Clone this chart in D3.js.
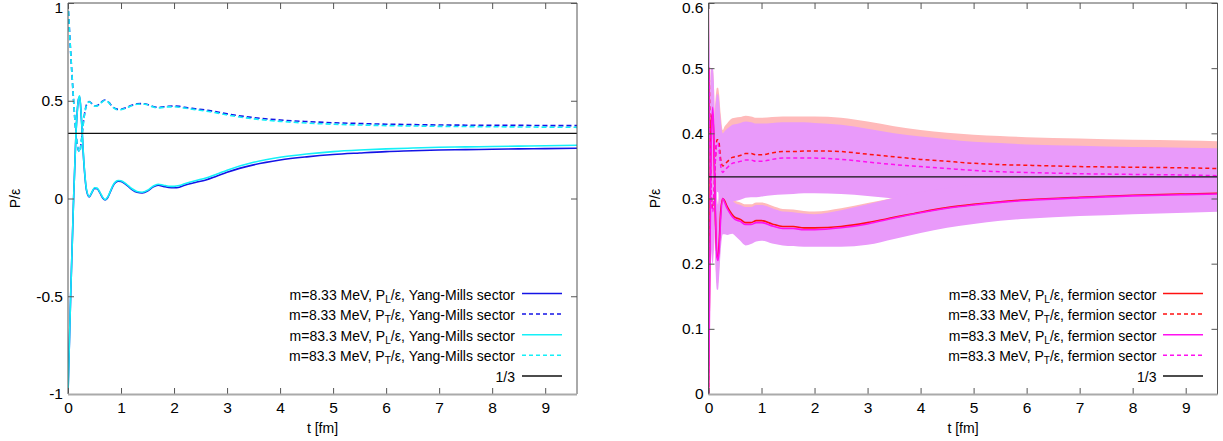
<!DOCTYPE html>
<html><head><meta charset="utf-8">
<script src="https://cdn.jsdelivr.net/npm/d3@7"></script>
<style>
body{margin:0;background:#fff}
svg{display:block}
</style>
</head><body><svg id="c" width="1223" height="441"></svg>
<script>
// ---------- LEFT PANEL (Yang-Mills sector) ----------
const tL = [0, 0.05, 0.1, 0.15, 0.2, 0.22, 0.25, 0.3, 0.35, 0.4, 0.45, 0.5, 0.55, 0.6, 0.65, 0.7, 0.75, 0.8, 0.85, 0.9, 0.95, 1.0, 1.1, 1.2, 1.3, 1.4, 1.5, 1.6, 1.7, 1.8, 1.9, 2.0, 2.1, 2.2, 2.4, 2.6, 2.8, 3.0, 3.5, 4.0, 4.5, 5, 5.5, 6, 6.5, 7, 7.5, 8, 8.5, 9, 9.6];
const ymPL8 = [-1.0, -0.5, -0.05, 0.33, 0.51, 0.52, 0.42, 0.18, 0.04, 0.008, 0.03, 0.052, 0.05, 0.03, 0.005, -0.008, 0.005, 0.035, 0.065, 0.082, 0.088, 0.087, 0.07, 0.047, 0.032, 0.029, 0.038, 0.058, 0.068, 0.062, 0.056, 0.055, 0.058, 0.068, 0.082, 0.095, 0.114, 0.134, 0.172, 0.197, 0.213, 0.225, 0.233, 0.24, 0.244, 0.248, 0.25, 0.252, 0.254, 0.255, 0.257];
const ymPT8 = [1.0, 0.75, 0.525, 0.335, 0.245, 0.24, 0.29, 0.41, 0.48, 0.496, 0.485, 0.474, 0.475, 0.485, 0.4975, 0.504, 0.4975, 0.4825, 0.4675, 0.459, 0.456, 0.4565, 0.465, 0.4765, 0.484, 0.4855, 0.481, 0.471, 0.466, 0.469, 0.472, 0.4725, 0.471, 0.466, 0.459, 0.4525, 0.443, 0.433, 0.414, 0.4015, 0.3935, 0.3875, 0.3835, 0.38, 0.378, 0.376, 0.375, 0.374, 0.374, 0.373, 0.373];
const ymPL83 = [-1.0, -0.5, -0.05, 0.33, 0.51, 0.525, 0.425, 0.185, 0.045, 0.01, 0.032, 0.055, 0.053, 0.033, 0.008, -0.006, 0.008, 0.038, 0.068, 0.086, 0.092, 0.091, 0.074, 0.051, 0.036, 0.032, 0.042, 0.062, 0.073, 0.068, 0.063, 0.062, 0.066, 0.075, 0.091, 0.105, 0.124, 0.145, 0.185, 0.211, 0.228, 0.24, 0.248, 0.254, 0.258, 0.262, 0.264, 0.266, 0.268, 0.27, 0.272];
const ymPT83 = [1.0, 0.75, 0.525, 0.335, 0.245, 0.2375, 0.2875, 0.4075, 0.4775, 0.495, 0.484, 0.4725, 0.4735, 0.4835, 0.496, 0.503, 0.496, 0.481, 0.466, 0.457, 0.454, 0.4545, 0.463, 0.4745, 0.482, 0.484, 0.479, 0.469, 0.4635, 0.466, 0.4685, 0.469, 0.467, 0.4625, 0.4545, 0.4475, 0.438, 0.4275, 0.4075, 0.3945, 0.386, 0.38, 0.376, 0.373, 0.371, 0.369, 0.368, 0.367, 0.366, 0.365, 0.364];

// ---------- RIGHT PANEL (fermion sector) ----------
const tR = [0, 0.01, 0.02, 0.05, 0.08, 0.1, 0.13, 0.16, 0.18, 0.2, 0.23, 0.27, 0.3, 0.35, 0.4, 0.45, 0.5, 0.6, 0.7, 0.8, 0.9, 1.0, 1.2, 1.4, 1.6, 1.8, 2.0, 2.5, 3.0, 3.5, 4.0, 4.5, 5, 5.5, 6, 7, 8, 9, 9.6];
const fPL8 = [0, 0.08, 0.2, 0.42, 0.43, 0.39, 0.27, 0.21, 0.21, 0.23, 0.28, 0.30, 0.297, 0.288, 0.281, 0.275, 0.271, 0.268, 0.263, 0.263, 0.266, 0.266, 0.261, 0.257, 0.257, 0.255, 0.255, 0.257, 0.263, 0.271, 0.279, 0.286, 0.291, 0.295, 0.298, 0.302, 0.305, 0.307, 0.308];
const fPT8 = [0, 0.5, 0.45, 0.31, 0.285, 0.3, 0.36, 0.39, 0.39, 0.385, 0.36, 0.35, 0.352, 0.356, 0.36, 0.363, 0.364, 0.366, 0.369, 0.369, 0.367, 0.367, 0.37, 0.372, 0.372, 0.373, 0.373, 0.372, 0.368, 0.364, 0.36, 0.357, 0.354, 0.352, 0.351, 0.349, 0.348, 0.347, 0.346];
const fPL83 = [0, 0.06, 0.15, 0.38, 0.44, 0.40, 0.28, 0.21, 0.205, 0.22, 0.27, 0.30, 0.295, 0.285, 0.278, 0.272, 0.268, 0.265, 0.26, 0.26, 0.263, 0.263, 0.258, 0.254, 0.254, 0.252, 0.252, 0.255, 0.261, 0.27, 0.278, 0.285, 0.29, 0.294, 0.297, 0.301, 0.304, 0.306, 0.307];
const fPT83 = [0, 0.5, 0.42, 0.31, 0.28, 0.3, 0.36, 0.385, 0.385, 0.375, 0.35, 0.34, 0.343, 0.347, 0.351, 0.354, 0.355, 0.357, 0.359, 0.359, 0.357, 0.357, 0.36, 0.362, 0.362, 0.362, 0.362, 0.36, 0.356, 0.352, 0.349, 0.346, 0.343, 0.341, 0.34, 0.338, 0.337, 0.336, 0.335];
// error bands
const fPT8lo = [0, 0.39, 0.33, 0.23, 0.21, 0.23, 0.29, 0.32, 0.32, 0.31, 0.29, 0.28, 0.285, 0.291, 0.298, 0.303, 0.304, 0.306, 0.309, 0.31, 0.31, 0.311, 0.313, 0.314, 0.315, 0.316, 0.316, 0.315, 0.312, 0.308, 0.304, 0.301, 0.298, 0.296, 0.295, 0.293, 0.292, 0.291, 0.291];
const fPT8hi = [0.6, 0.6, 0.55, 0.43, 0.39, 0.41, 0.45, 0.47, 0.47, 0.46, 0.43, 0.405, 0.41, 0.415, 0.42, 0.423, 0.424, 0.425, 0.427, 0.426, 0.424, 0.424, 0.425, 0.426, 0.426, 0.426, 0.426, 0.424, 0.418, 0.411, 0.405, 0.401, 0.398, 0.396, 0.394, 0.392, 0.39, 0.389, 0.388];
const fPL8lo = [0, 0, 0.06, 0.29, 0.35, 0.31, 0.21, 0.17, 0.17, 0.19, 0.23, 0.255, 0.255, 0.253, 0.253, 0.252, 0.248, 0.24, 0.233, 0.235, 0.239, 0.24, 0.236, 0.233, 0.232, 0.231, 0.231, 0.231, 0.234, 0.243, 0.252, 0.26, 0.266, 0.271, 0.274, 0.278, 0.281, 0.283, 0.284];
const fPL8hi = [0.05, 0.22, 0.32, 0.5, 0.5, 0.48, 0.38, 0.3, 0.29, 0.31, 0.34, 0.35, 0.343, 0.324, 0.309, 0.301, 0.297, 0.294, 0.291, 0.291, 0.294, 0.294, 0.289, 0.284, 0.283, 0.281, 0.28, 0.285, 0.293, 0.301, 0.31, 0.316, 0.321, 0.325, 0.328, 0.331, 0.333, 0.335, 0.336];
const fPT83lo = [0, 0.38, 0.32, 0.22, 0.2, 0.22, 0.28, 0.31, 0.31, 0.3, 0.28, 0.27, 0.275, 0.283, 0.29, 0.295, 0.296, 0.298, 0.301, 0.302, 0.302, 0.303, 0.305, 0.306, 0.307, 0.308, 0.308, 0.307, 0.304, 0.3, 0.296, 0.293, 0.29, 0.288, 0.287, 0.285, 0.284, 0.283, 0.283];
const fPT83hi = [0.6, 0.6, 0.55, 0.42, 0.38, 0.4, 0.44, 0.46, 0.46, 0.45, 0.42, 0.4, 0.403, 0.407, 0.41, 0.413, 0.414, 0.416, 0.418, 0.417, 0.415, 0.415, 0.416, 0.417, 0.417, 0.417, 0.416, 0.413, 0.407, 0.4, 0.395, 0.391, 0.387, 0.385, 0.383, 0.381, 0.379, 0.378, 0.377];
const fPL83lo = [0, 0, 0.05, 0.28, 0.34, 0.3, 0.2, 0.16, 0.16, 0.18, 0.22, 0.245, 0.245, 0.244, 0.245, 0.246, 0.243, 0.235, 0.228, 0.23, 0.234, 0.235, 0.231, 0.228, 0.227, 0.226, 0.226, 0.226, 0.229, 0.238, 0.247, 0.255, 0.261, 0.266, 0.269, 0.273, 0.276, 0.278, 0.2795];
const fPL83hi = [0.05, 0.2, 0.3, 0.5, 0.5, 0.48, 0.38, 0.3, 0.29, 0.31, 0.34, 0.35, 0.34, 0.32, 0.305, 0.297, 0.293, 0.29, 0.287, 0.287, 0.29, 0.29, 0.285, 0.28, 0.279, 0.277, 0.276, 0.282, 0.291, 0.301, 0.31, 0.316, 0.321, 0.325, 0.328, 0.331, 0.333, 0.335, 0.336];

const oneThird = 1/3;

// ---------- ticks ----------
const xTicks = [0,1,2,3,4,5,6,7,8,9];
const xTickLabels = ["0","1","2","3","4","5","6","7","8","9"];
const yTicksL = [-1,-0.5,0,0.5,1];
const yTickLabelsL = ["-1","-0.5","0","0.5","1"];
const yTicksR = [0,0.1,0.2,0.3,0.4,0.5,0.6];
const yTickLabelsR = ["0","0.1","0.2","0.3","0.4","0.5","0.6"];

const legendL = [
  {pre:"m=8.33 MeV, P", sub:"L", post:"/ε, Yang-Mills sector"},
  {pre:"m=8.33 MeV, P", sub:"T", post:"/ε, Yang-Mills sector"},
  {pre:"m=83.3 MeV, P", sub:"L", post:"/ε, Yang-Mills sector"},
  {pre:"m=83.3 MeV, P", sub:"T", post:"/ε, Yang-Mills sector"},
  {pre:"1/3", sub:"", post:""}
];
const legendR = [
  {pre:"m=8.33 MeV, P", sub:"L", post:"/ε, fermion sector"},
  {pre:"m=8.33 MeV, P", sub:"T", post:"/ε, fermion sector"},
  {pre:"m=83.3 MeV, P", sub:"L", post:"/ε, fermion sector"},
  {pre:"m=83.3 MeV, P", sub:"T", post:"/ε, fermion sector"},
  {pre:"1/3", sub:"", post:""}
];

const FONT = "'Liberation Sans', Arial, Helvetica, sans-serif";
const svg = d3.select("#c");
const BLUE = "#1414e6", CYAN = "#14f0f8", RED = "#ff1010", MAG = "#ff10f0";
const SALMON = "#ffbaba", VIOLET = "#e99afa";

function drawPanel(p) {
  const x = d3.scaleLinear().domain([0, 9.6]).range([p.x0, p.x1]);
  const y = d3.scaleLinear().domain(p.yDomain).range([p.yb, p.yt]);
  const g = svg.append("g");
  svg.append("clipPath").attr("id", "clip" + p.id)
    .append("rect").attr("x", p.x0).attr("y", p.yt).attr("width", p.x1 - p.x0).attr("height", p.yb - p.yt);
  const plot = g.append("g").attr("clip-path", `url(#clip${p.id})`);

  p.bands.forEach(b => {
    const area = d3.area().x((d, i) => x(p.t[i])).y0((d, i) => y(b.lo[i])).y1((d, i) => y(b.hi[i])).curve(d3.curveMonotoneX);
    plot.append("path").datum(b.lo).attr("d", area).attr("fill", b.color).attr("stroke", "none");
  });
  p.lines.forEach(s => {
    const line = d3.line().x((d, i) => x(p.t[i])).y(d => y(d)).curve(d3.curveMonotoneX);
    plot.append("path").datum(s.v).attr("d", line).attr("fill", "none")
      .attr("stroke", s.color).attr("stroke-width", s.w || 1.5)
      .attr("stroke-dasharray", s.dash ? s.dash : null);
  });
  plot.append("line").attr("x1", x(0)).attr("x2", x(9.6)).attr("y1", y(oneThird)).attr("y2", y(oneThird))
    .attr("stroke", "#111").attr("stroke-width", 1.3);

  // axes
  const fs = 15.5;
  const ab = g.append("g").attr("transform", `translate(0,${p.yb})`)
    .call(d3.axisBottom(x).tickValues(xTicks).tickFormat((d, i) => xTickLabels[i]).tickSize(-6).tickPadding(8));
  const at = g.append("g").attr("transform", `translate(0,${p.yt})`)
    .call(d3.axisTop(x).tickValues(xTicks).tickFormat("").tickSize(-6));
  const al = g.append("g").attr("transform", `translate(${p.x0},0)`)
    .call(d3.axisLeft(y).tickValues(p.yTicks).tickFormat((d, i) => p.yLabels[i]).tickSize(-6).tickPadding(5));
  const ar = g.append("g").attr("transform", `translate(${p.x1},0)`)
    .call(d3.axisRight(y).tickValues(p.yTicks).tickFormat("").tickSize(-6));
  [ab, at, al, ar].forEach(a => {
    a.select(".domain").remove();
    a.attr("font-size", fs).attr("font-family", FONT);
    a.selectAll("line").attr("stroke", "#555");
    a.selectAll("text").attr("fill", "#000");
  });
  // keep the top y tick label inside the picture, as in the reference
  al.selectAll(".tick").filter(d => d === p.yDomain[1]).select("text").attr("dy", "0.6em");

  // frame
  g.append("path").attr("d", `M${p.x0},${p.yb}V${p.yt}H${p.x1}V${p.yb}`).attr("fill", "none").attr("stroke", "#555").attr("stroke-width", 1);
  g.append("line").attr("x1", p.x0).attr("x2", p.x1).attr("y1", p.yb + 0.5).attr("y2", p.yb + 0.5).attr("stroke", "#aaa").attr("stroke-width", 2);

  // axis titles
  g.append("text").attr("x", (p.x0 + p.x1) / 2).attr("y", 433).attr("text-anchor", "middle")
    .attr("font-family", FONT).attr("font-size", 14).text("t [fm]");
  g.append("text").attr("transform", `translate(${p.ylabX},${(p.yt + p.yb) / 2}) rotate(-90)`).attr("text-anchor", "middle")
    .attr("dy", "0.35em").attr("font-family", FONT).attr("font-size", 14).text("P/ε");

  // legend
  p.legend.forEach((e, i) => {
    const ly = p.legY0 + i * p.legDy;
    const s = p.legStyles[i];
    g.append("line").attr("x1", p.legLx0).attr("x2", p.legLx1).attr("y1", ly).attr("y2", ly)
      .attr("stroke", s.color).attr("stroke-width", 1.5).attr("stroke-dasharray", s.dash ? s.dash : null);
    const t = g.append("text").attr("x", p.legTx).attr("y", ly + 6).attr("text-anchor", "end")
      .attr("font-family", FONT).attr("font-size", 14);
    t.append("tspan").text(e.pre);
    if (e.sub) {
      t.append("tspan").attr("dy", 3).attr("font-size", 10).text(e.sub);
      t.append("tspan").attr("dy", -3).text(e.post);
    }
  });
}

drawPanel({
  id: "L", x0: 68, x1: 577, yt: 3, yb: 394, yDomain: [-1, 1], t: tL,
  yTicks: yTicksL, yLabels: yTickLabelsL, ylabX: 15,
  bands: [],
  lines: [
    {v: ymPL8, color: BLUE, w: 1.6},
    {v: ymPT8, color: BLUE, w: 1.6, dash: "5,3"},
    {v: ymPL83, color: CYAN, w: 1.6},
    {v: ymPT83, color: CYAN, w: 1.6, dash: "5,3"}
  ],
  legend: legendL, legY0: 293.5, legDy: 20.6, legLx0: 522, legLx1: 562, legTx: 515,
  legStyles: [{color: BLUE}, {color: BLUE, dash: "4,3"}, {color: CYAN}, {color: CYAN, dash: "4,3"}, {color: "#111"}]
});

drawPanel({
  id: "R", x0: 708.5, x1: 1217.5, yt: 3, yb: 394, yDomain: [0, 0.6], t: tR,
  yTicks: yTicksR, yLabels: yTickLabelsR, ylabX: 655,
  bands: [
    {lo: fPT8lo, hi: fPT8hi, color: SALMON},
    {lo: fPL8lo, hi: fPL8hi, color: SALMON},
    {lo: fPT83lo, hi: fPT83hi, color: VIOLET},
    {lo: fPL83lo, hi: fPL83hi, color: VIOLET}
  ],
  lines: [
    {v: fPL8, color: RED, w: 1.6},
    {v: fPT8, color: RED, w: 1.5, dash: "4,3"},
    {v: fPL83, color: MAG, w: 1.6},
    {v: fPT83, color: MAG, w: 1.5, dash: "4,3"}
  ],
  legend: legendR, legY0: 293.5, legDy: 20.6, legLx0: 1163, legLx1: 1203, legTx: 1156.5,
  legStyles: [{color: RED}, {color: RED, dash: "4,3"}, {color: MAG}, {color: MAG, dash: "4,3"}, {color: "#111"}]
});
</script>
</body></html>
